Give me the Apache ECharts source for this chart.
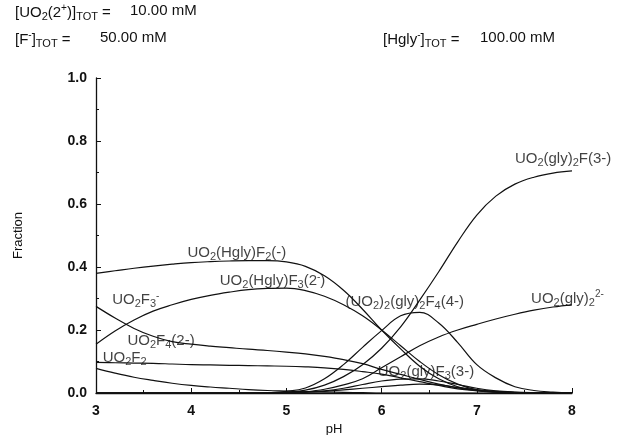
<!DOCTYPE html>
<html>
<head>
<meta charset="utf-8">
<script src="https://cdn.jsdelivr.net/npm/echarts@6/dist/echarts.min.js"></script>
<style>
  html, body { margin: 0; padding: 0; background: #fff; }
  #chart { width: 642px; height: 435px; }
</style>
</head>
<body>
<div id="chart"></div>
<script>
// pH grid, 0.2 steps from 3 to 8
const pH = [3.0, 3.2, 3.4, 3.6, 3.8, 4.0, 4.2, 4.4, 4.6, 4.8, 5.0, 5.2, 5.4, 5.6, 5.8, 6.0, 6.2, 6.4, 6.6, 6.8, 7.0, 7.2, 7.4, 7.6, 7.8, 8.0]

// fractions
const hglyF2 = [0.38, 0.388, 0.396, 0.403, 0.409, 0.414, 0.417, 0.419, 0.42, 0.42, 0.416, 0.402, 0.372, 0.326, 0.266, 0.20, 0.14, 0.085, 0.045, 0.02, 0.008, 0.003, 0.001, 0, 0, 0]
const hglyF3 = [0.155, 0.197, 0.232, 0.26, 0.28, 0.297, 0.31, 0.32, 0.328, 0.332, 0.333, 0.325, 0.307, 0.28, 0.245, 0.20, 0.15, 0.10, 0.058, 0.028, 0.01, 0.004, 0.001, 0, 0, 0]
const uo2F3 = [0.275, 0.238, 0.205, 0.18, 0.163, 0.155, 0.149, 0.144, 0.139, 0.135, 0.13, 0.124, 0.116, 0.106, 0.093, 0.075, 0.059, 0.043, 0.028, 0.016, 0.008, 0.004, 0.001, 0, 0, 0]
const uo2F2 = [0.097, 0.096, 0.095, 0.094, 0.092, 0.09, 0.089, 0.088, 0.087, 0.086, 0.085, 0.083, 0.08, 0.075, 0.068, 0.06, 0.048, 0.036, 0.024, 0.013, 0.007, 0.003, 0.001, 0, 0, 0]
const uo2F = [0.078, 0.063, 0.05, 0.04, 0.031, 0.024, 0.019, 0.015, 0.011, 0.008, 0.006, 0.004, 0.003, 0.002, 0.001, 0, 0, 0, 0, 0, 0, 0, 0, 0, 0, 0]
const gly2F = [0, 0, 0, 0, 0, 0, 0, 0, 0, 0, 0.002, 0.009, 0.025, 0.052, 0.09, 0.142, 0.21, 0.295, 0.385, 0.48, 0.565, 0.625, 0.663, 0.685, 0.698, 0.705]
const dimer = [0, 0, 0, 0, 0, 0, 0, 0, 0, 0.001, 0.005, 0.016, 0.045, 0.09, 0.145, 0.198, 0.245, 0.256, 0.222, 0.16, 0.09, 0.048, 0.02, 0.008, 0.003, 0]
const gly2 = [0, 0, 0, 0, 0, 0, 0, 0, 0, 0, 0, 0.004, 0.012, 0.026, 0.045, 0.08, 0.115, 0.15, 0.178, 0.2, 0.218, 0.235, 0.25, 0.263, 0.273, 0.28]
const glyF3 = [0, 0, 0, 0, 0, 0, 0, 0, 0, 0, 0.001, 0.003, 0.007, 0.015, 0.027, 0.038, 0.044, 0.045, 0.038, 0.027, 0.015, 0.007, 0.003, 0.001, 0, 0]
const glyF2 = [0, 0, 0, 0, 0, 0, 0, 0, 0, 0, 0, 0.002, 0.005, 0.01, 0.015, 0.02, 0.025, 0.028, 0.026, 0.018, 0.011, 0.005, 0.002, 0.001, 0, 0]

const curves = [hglyF2, hglyF3, uo2F3, uo2F2, uo2F, gly2F, dimer, gly2, glyF3, glyF2]

// curve labels: rich text, anchor (left-middle) in data coords
const labelTexts = [
    'UO{s|2}(Hgly)F{s|2}(-)',
    'UO{s|2}(Hgly)F{s|3}(2{p|-})',
    '(UO{s|2}){s|2}(gly){s|2}F{s|4}(4-)',
    'UO{s|2}F{s|3}{p|-}',
    'UO{s|2}F{s|4}(2-)',
    'UO{s|2}F{s|2}',
    'UO{s|2}(gly)F{s|3}(3-)',
    'UO{s|2}(gly){s|2}{p|2-}',
    'UO{s|2}(gly){s|2}F(3-)'
]
const labelX = [3.96, 4.30, 5.62, 3.17, 3.33, 3.07, 5.96, 7.57, 7.40]
const labelY = [0.446, 0.356, 0.29, 0.296, 0.166, 0.11, 0.066, 0.30, 0.742]

const rich = {
    s: { fontSize: 11, padding: [8, 0, 0, 0], lineHeight: 12 },
    p: { fontSize: 10, padding: [0, 0, 8, 0], lineHeight: 12 }
}
const txtFont = 'Liberation Sans'

const chart = echarts.init(document.getElementById('chart'))

const series = curves.map(function (c) {
    return {
        type: 'line',
        data: pH.map(function (x, i) { return [x, c[i]] }),
        smooth: 0.4,
        symbol: 'none',
        silent: true,
        lineStyle: { color: '#111', width: 1.2 }
    }
})

series.push({
    type: 'scatter',
    symbolSize: 0,
    silent: true,
    data: labelX.map(function (x, i) { return [x, labelY[i], labelTexts[i]] }),
    label: {
        show: true,
        position: 'right',
        distance: 0,
        color: '#111',
        fontFamily: txtFont,
        fontSize: 15,
        formatter: function (p) { return p.data[2] },
        rich: rich
    }
})

function header(x, y, text) {
    return {
        type: 'text',
        left: x,
        top: y,
        style: { text: text, fill: '#111', font: '15px ' + txtFont, rich: rich }
    }
}

const option = {
    backgroundColor: '#fff',
    animation: false,
    textStyle: { fontFamily: txtFont },
    grid: { left: 96, right: 70, top: 78, bottom: 42, outerBoundsMode: 'none', containLabel: false },
    xAxis: {
        type: 'value',
        min: 3,
        max: 8,
        interval: 1,
        name: 'pH',
        nameLocation: 'middle',
        nameGap: 29,
        nameTextStyle: { color: '#111', fontSize: 13 },
        splitLine: { show: false },
        axisLine: { lineStyle: { color: '#111', width: 1.3 } },
        axisTick: { inside: true, length: 5, lineStyle: { color: '#111' } },
        minorTick: { show: true, splitNumber: 2, length: 3, lineStyle: { color: '#111' } },
        axisLabel: { color: '#111', fontSize: 14, fontWeight: 'bold', margin: 11 }
    },
    yAxis: {
        type: 'value',
        min: 0,
        max: 1,
        interval: 0.2,
        name: 'Fraction',
        nameLocation: 'middle',
        nameGap: 71,
        nameTextStyle: { color: '#111', fontSize: 13 },
        splitLine: { show: false },
        axisLine: { show: true, lineStyle: { color: '#111', width: 1.3 } },
        axisTick: { show: true, inside: true, length: 5, lineStyle: { color: '#111' } },
        minorTick: { show: true, splitNumber: 2, length: 3, lineStyle: { color: '#111' } },
        axisLabel: {
            color: '#111', fontSize: 14, fontWeight: 'bold', margin: 9,
            formatter: function (v) { return v.toFixed(1) }
        }
    },
    graphic: [
        header(15, 3, '[UO{s|2}(2{p|+})]{s|TOT} ='),
        header(130, 3, '10.00 mM'),
        header(15, 30, '[F{p|-}]{s|TOT} ='),
        header(100, 30, '50.00 mM'),
        header(383, 30, '[Hgly{p|-}]{s|TOT} ='),
        header(480, 30, '100.00 mM')
    ],
    series: series
}
chart.setOption(option)
</script>
</body>
</html>
